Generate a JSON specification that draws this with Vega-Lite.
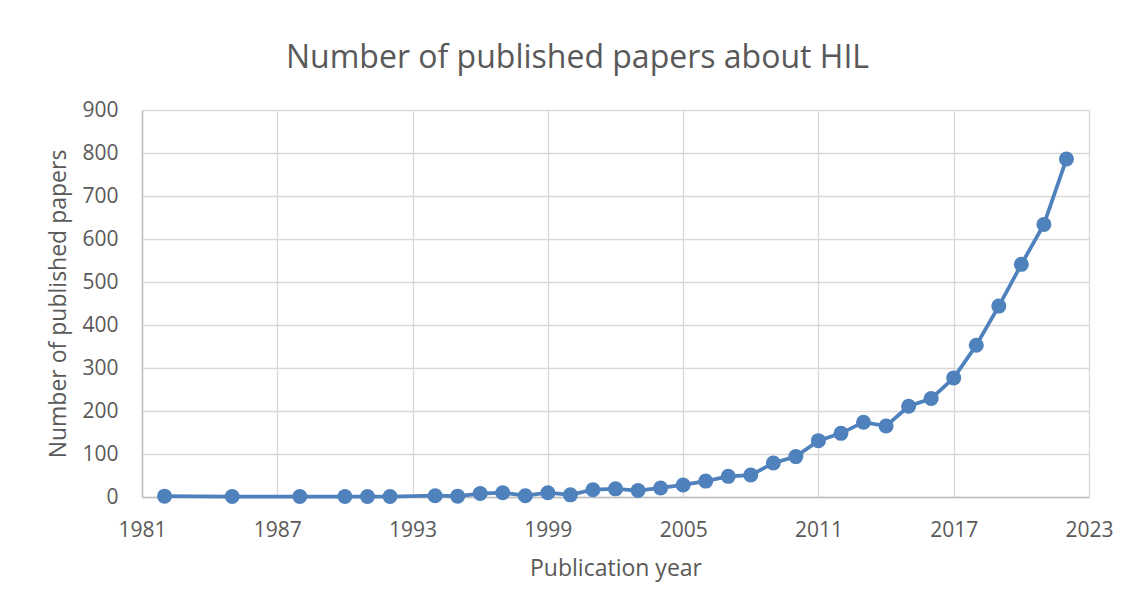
{
  "$schema": "https://vega.github.io/schema/vega-lite/v6.json",
  "autosize": {"type": "none"},
  "padding": {"left": 142, "top": 110, "right": 47, "bottom": 111},
  "width": 947,
  "height": 387,
  "background": "white",
  "title": {
    "text": "Number of published papers about HIL",
    "anchor": "middle",
    "frame": "group",
    "dx": -38,
    "offset": 24,
    "font": "Open Sans",
    "fontSize": 32,
    "fontWeight": "normal",
    "color": "#595959"
  },
  "data": {
    "values": [
      {"year": 1982, "papers": 2},
      {"year": 1985, "papers": 1},
      {"year": 1988, "papers": 1},
      {"year": 1990, "papers": 1},
      {"year": 1991, "papers": 1},
      {"year": 1992, "papers": 1},
      {"year": 1994, "papers": 3},
      {"year": 1995, "papers": 2},
      {"year": 1996, "papers": 8},
      {"year": 1997, "papers": 10},
      {"year": 1998, "papers": 3},
      {"year": 1999, "papers": 10},
      {"year": 2000, "papers": 5},
      {"year": 2001, "papers": 17},
      {"year": 2002, "papers": 19},
      {"year": 2003, "papers": 15},
      {"year": 2004, "papers": 21},
      {"year": 2005, "papers": 28},
      {"year": 2006, "papers": 37},
      {"year": 2007, "papers": 48},
      {"year": 2008, "papers": 51},
      {"year": 2009, "papers": 79},
      {"year": 2010, "papers": 94},
      {"year": 2011, "papers": 131},
      {"year": 2012, "papers": 148},
      {"year": 2013, "papers": 174},
      {"year": 2014, "papers": 165},
      {"year": 2015, "papers": 211},
      {"year": 2016, "papers": 229},
      {"year": 2017, "papers": 277},
      {"year": 2018, "papers": 353},
      {"year": 2019, "papers": 444},
      {"year": 2020, "papers": 541},
      {"year": 2021, "papers": 634},
      {"year": 2022, "papers": 786}
    ]
  },
  "encoding": {
    "x": {
      "field": "year",
      "type": "quantitative",
      "scale": {"domain": [1981, 2023], "nice": false, "zero": false},
      "axis": {
        "title": "Publication year",
        "values": [1981, 1987, 1993, 1999, 2005, 2011, 2017, 2023],
        "format": "d",
        "ticks": false,
        "labelFlush": false,
        "labelOverlap": false,
        "labelPadding": 22,
        "titlePadding": 17
      }
    },
    "y": {
      "field": "papers",
      "type": "quantitative",
      "scale": {"domain": [0, 900], "nice": false},
      "axis": {
        "title": "Number of published papers",
        "values": [0, 100, 200, 300, 400, 500, 600, 700, 800, 900],
        "ticks": false,
        "labelFlush": false,
        "labelOverlap": false,
        "labelPadding": 24,
        "titlePadding": 11
      }
    }
  },
  "layer": [
    {"mark": {"type": "line", "color": "#4f81bd", "strokeWidth": 3.75}},
    {"mark": {"type": "point", "filled": true, "color": "#4f81bd", "opacity": 1, "size": 225}}
  ],
  "config": {
    "view": {"stroke": null},
    "font": "Open Sans",
    "axis": {
      "labelFont": "Open Sans",
      "labelFontSize": 21,
      "labelColor": "#595959",
      "titleFont": "Open Sans",
      "titleFontSize": 23,
      "titleFontWeight": "normal",
      "titleColor": "#595959",
      "gridColor": "#d9d9d9",
      "gridWidth": 1.3,
      "domainColor": "#bfbfbf",
      "domainWidth": 1.5
    }
  }
}
